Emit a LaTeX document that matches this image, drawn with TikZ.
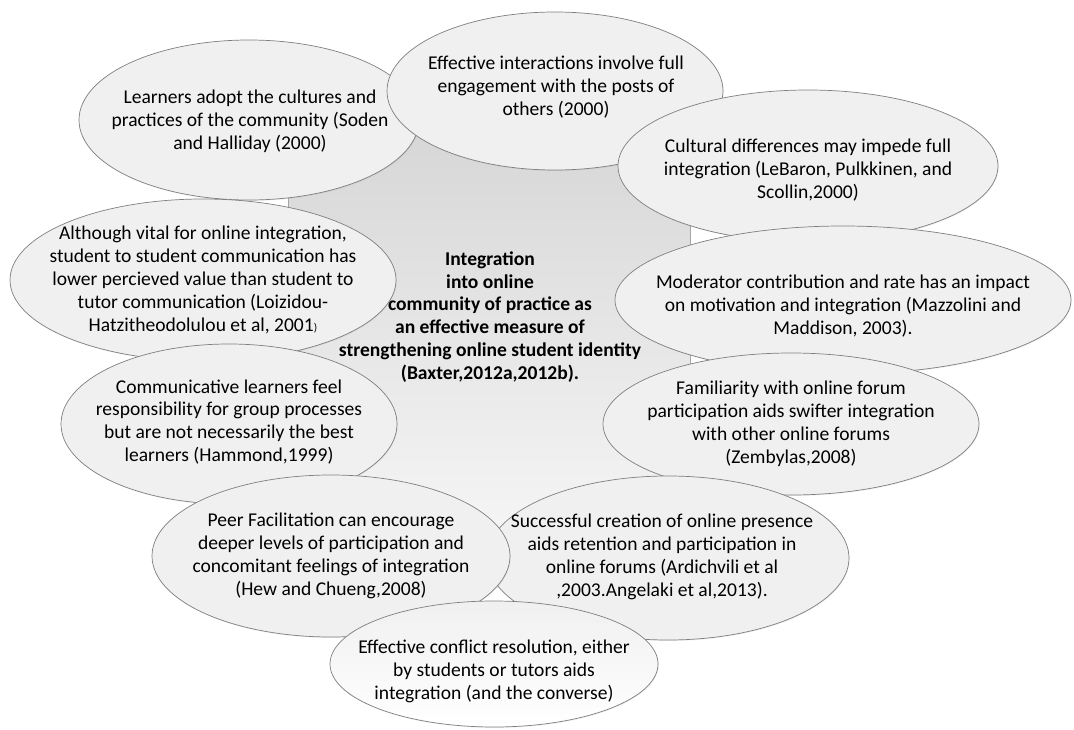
\documentclass[tikz,border=0pt]{standalone}
\usepackage{fontspec}
\setmainfont{Carlito}
\usetikzlibrary{shapes.geometric,shadows}

\definecolor{rim}{HTML}{7F7F7F}
\definecolor{shell}{HTML}{F0F0F0}
\tikzset{
  bubble/.style={ellipse, draw=rim, line width=0.5pt, fill=shell, inner sep=0pt,
    drop shadow={opacity=0.12, shadow xshift=0.5pt, shadow yshift=-0.7pt}},
  txt/.style={align=center, inner sep=0pt, font=\fontsize{13.9}{16.3}\selectfont},
}

\begin{document}
\begin{tikzpicture}[x=0.025cm, y=-0.025cm]
    \useasboundingbox (0,0) rectangle (1074,730);
    % Mitte
    \shade[top color=black!16, bottom color=black!3, draw=rim!70, line width=0.4pt]
        (288,125) rectangle (690,565);
    \node[txt, font=\fontsize{13.9}{16.3}\selectfont\bfseries] (core) at (490,317)
        {Integration\\into online\\community of practice as\\an effective measure of\\strengthening online student identity\\(Baxter,2012a,2012b).};

    % Ellipsen
    \node[bubble, minimum width=340*0.025cm, minimum height=160*0.025cm] (e1) at (249,120) {};
    \node[txt] (t1) at (250,121) {Learners adopt the cultures and\\practices of the community (Soden\\and Halliday (2000)};
    \node[bubble, minimum width=336*0.025cm, minimum height=158*0.025cm] (e2) at (555,91) {};
    \node[txt] (t2) at (556,87) {Effective interactions involve full\\engagement with the posts of\\others (2000)};
    \node[bubble, minimum width=380*0.025cm, minimum height=152*0.025cm] (e3) at (808,166) {};
    \node[txt] (t3) at (808,170) {Cultural differences may impede full\\integration (LeBaron, Pulkkinen, and\\Scollin,2000)};
    \node[bubble, minimum width=456*0.025cm, minimum height=148*0.025cm] (e5) at (843,300) {};
    \node[txt] (t5) at (843,306) {Moderator contribution and rate has an impact\\on motivation and integration (Mazzolini and\\Maddison, 2003).};
    \node[bubble, minimum width=386*0.025cm, minimum height=162*0.025cm] (e4) at (203,280) {};
    \node[txt] (t4) at (203,280) {Although vital for online integration,\\student to student communication has\\lower percieved value than student to\\tutor communication (Loizidou-\\Hatzitheodolulou et al, 2001{\footnotesize)}};
    \node[bubble, minimum width=336*0.025cm, minimum height=160*0.025cm] (e6) at (229,424) {};
    \node[txt] (t6) at (229,422) {Communicative learners feel\\responsibility for group processes\\but are not necessarily the best\\learners (Hammond,1999)};
    \node[bubble, minimum width=376*0.025cm, minimum height=142*0.025cm] (e7) at (791,424) {};
    \node[txt] (t7) at (791,424) {Familiarity with online forum\\participation aids swifter integration\\with other online forums\\(Zembylas,2008)};
    \node[bubble, minimum width=362*0.025cm, minimum height=164*0.025cm] (e9) at (668,558) {};
    \node[txt] (t9) at (662,557) {Successful creation of online presence\\aids retention and participation in\\online forums (Ardichvili et al\\,2003.Angelaki et al,2013).};
    \node[bubble, minimum width=358*0.025cm, minimum height=162*0.025cm] (e8) at (331,556) {};
    \node[txt] (t8) at (331,556) {Peer Facilitation can encourage\\deeper levels of participation and\\concomitant feelings of integration\\(Hew and Chueng,2008)};
    \node[bubble, top color=shell, bottom color=white, minimum width=328*0.025cm, minimum height=126*0.025cm] (e10) at (494,664) {};
    \node[txt] (t10) at (494,671) {Effective conflict resolution, either\\by students or tutors aids\\integration (and the converse)};
\end{tikzpicture}
\end{document}
